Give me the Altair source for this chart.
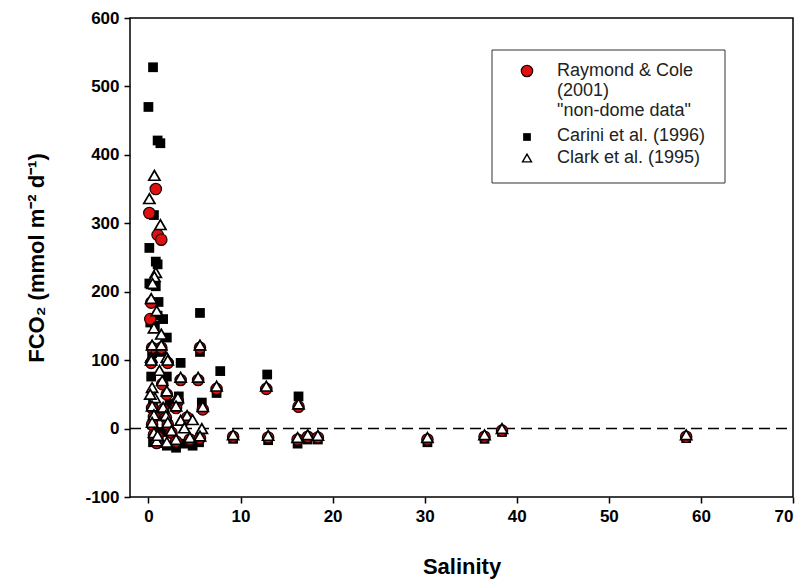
import altair as alt
import pandas as pd

# Raymond & Cole (2001) "non-dome data"
rc_sal = [0.8, 0.1, 1.0, 1.4, 0.3, 0.2, 0.4, 1.4, 0.3, 2.1, 3.5, 5.4, 7.4, 12.8, 16.3, 5.9,
          1.5, 2.0, 3.2, 3.0, 1.6, 0.4, 0.6, 1.9, 4.2, 0.4, 2.1, 0.6, 2.5, 0.9, 3.0, 4.5,
          5.6, 9.2, 13.0, 16.2, 17.3, 18.4, 30.3, 36.5, 38.4, 58.4, 5.6, 1.0]
rc_flux = [350, 315, 283, 276, 184, 160, 118, 118, 96, 96, 71, 71, 58, 58, 32, 28,
           65, 50, 40, 30, 28, 30, 17, 16, 16, 6, 6, -9, -6, -21, -19, -16,
           -14, -12, -13, -16, -12, -13, -16, -12, -3, -12, 118, -12]

# Carini et al. (1996)
ca_sal = [0.5, 0.0, 1.0, 1.3, 0.6, 0.1, 0.8, 1.0, 0.1, 0.8, 0.5, 1.1, 1.0, 0.2, 2.0, 5.6,
          5.6, 3.5, 0.3, 2.0, 7.8, 12.9, 16.3, 5.8, 3.3, 0.5, 2.3, 0.5, 1.5, 0.5, 2.0, 3.0,
          4.8, 5.5, 9.2, 13.0, 16.2, 17.3, 18.4, 30.3, 36.5, 38.4, 58.4, 1.0, 4.0, 0.7, 1.6,
          0.4, 1.4, 7.4]
ca_flux = [528, 470, 421, 417, 312, 264, 244, 240, 212, 208, 210, 185, 165, 155, 133, 169,
           112, 96, 76, 76, 84, 79, 47, 38, 47, 35, 36, 10, -5, -20, -25, -28,
           -25, -20, -15, -17, -22, -16, -16, -20, -15, -5, -14, -12, -22, 150, 160,
           110, 112, 52]

# Clark et al. (1995)
cl_sal = [0.65, 0.1, 1.3, 0.8, 0.65, 0.45, 0.3, 0.9, 0.6, 1.4, 0.4, 1.4, 0.3, 2.0, 5.6,
          0.3, 2.1, 1.5, 3.5, 5.4, 7.4, 0.4, 2.0, 0.7, 3.2, 5.9, 0.4, 1.6, 3.0, 0.6, 1.9,
          4.2, 0.4, 2.1, 3.5, 4.8, 0.6, 2.5, 3.9, 5.8, 0.9, 3.0, 4.5, 5.6, 9.2, 13.0, 16.3,
          12.8, 16.2, 17.3, 18.4, 30.3, 36.5, 38.4, 58.4, 1.0, 2.0, 0.2, 1.2]
cl_flux = [370, 336, 298, 228, 222, 212, 190, 172, 147, 138, 122, 122, 104, 104, 122,
           100, 100, 70, 75, 75, 62, 60, 55, 45, 45, 32, 33, 31, 33, 20, 19,
           19, 9, 9, 12, 13, -6, -3, 1, 0, -18, -16, -13, -11, -9, -10, 36,
           62, -13, -9, -10, -13, -9, 0, -9, -10, -20, 50, 85]

legend_lines = ['Raymond & Cole', '(2001)', '"non-dome data"',
                'Carini et al. (1996)', 'Clark et al. (1995)']

rc = pd.DataFrame({'sal': rc_sal, 'flux': rc_flux})
ca = pd.DataFrame({'sal': ca_sal, 'flux': ca_flux})
cl = pd.DataFrame({'sal': cl_sal, 'flux': cl_flux})

FONT = 'Liberation Sans'
W, H = 663, 479

xs = alt.Scale(domain=[-2, 70], nice=False, zero=False)
ys = alt.Scale(domain=[-100, 600], nice=False, zero=False)
X = alt.X('sal:Q', scale=xs,
          axis=alt.Axis(values=list(range(0, 71, 10)), title='Salinity', titlePadding=32,
                        labelExpr="replace(datum.label, '\u2212', '-')"))
Y = alt.Y('flux:Q', scale=ys,
          axis=alt.Axis(values=list(range(-100, 601, 100)), title='FCO₂ (mmol m⁻² d⁻¹)',
                        titlePadding=36, labelExpr="replace(datum.label, '\u2212', '-')"))

squares = alt.Chart(ca).mark_point(shape='square', filled=True, color='black', size=95,
                                   opacity=1).encode(x=X, y=Y)
circles = alt.Chart(rc).mark_point(shape='circle', filled=True, fill='#e01010', stroke='#200000',
                                   strokeWidth=1.2, size=130, opacity=1).encode(x=X, y=Y)
tris = alt.Chart(cl).mark_point(shape='triangle-up', filled=True, fill='white', stroke='black',
                                strokeWidth=1.7, size=125, opacity=1).encode(x=X, y=Y)

zero = alt.Chart(pd.DataFrame({'flux': [0]})).mark_rule(
    color='black', strokeWidth=1.4, strokeDash=[11, 6]).encode(
    y=Y, x=alt.value(0), x2=alt.value(W))

# manual legend (pixel positions inside plot area)
box = alt.Chart(pd.DataFrame({'a': [0]})).mark_rect(
    fill='white', stroke='#333333', strokeWidth=1).encode(
    x=alt.value(362), x2=alt.value(595), y=alt.value(32), y2=alt.value(165))
lg_sym = pd.DataFrame({'px': [397, 397, 397], 'py': [53, 119, 140], 'k': ['c', 's', 't']})
lg_c = alt.Chart(lg_sym[lg_sym.k == 'c']).mark_point(
    shape='circle', filled=True, fill='#e01010', stroke='#200000', strokeWidth=1.2, size=130,
    opacity=1).encode(x=alt.X('px:Q', scale=None), y=alt.Y('py:Q', scale=None))
lg_s = alt.Chart(lg_sym[lg_sym.k == 's']).mark_point(
    shape='square', filled=True, color='black', size=60, opacity=1).encode(
    x=alt.X('px:Q', scale=None), y=alt.Y('py:Q', scale=None))
lg_t = alt.Chart(lg_sym[lg_sym.k == 't']).mark_point(
    shape='triangle-up', filled=True, fill='white', stroke='black', strokeWidth=1.4, size=80,
    opacity=1).encode(x=alt.X('px:Q', scale=None), y=alt.Y('py:Q', scale=None))
lg_txt_df = pd.DataFrame({'t': legend_lines, 'px': [427] * 5, 'py': [53, 73, 93, 118, 140]})
lg_txt = alt.Chart(lg_txt_df).mark_text(
    align='left', baseline='middle', font=FONT, fontSize=18, color='#222222').encode(
    x=alt.X('px:Q', scale=None), y=alt.Y('py:Q', scale=None), text='t:N')

chart = alt.layer(zero, squares, circles, tris, box, lg_c, lg_s, lg_t, lg_txt).properties(
    width=W, height=H,
    autosize=alt.AutoSizeParams(type='none'),
    padding={'left': 130, 'top': 18, 'right': 12, 'bottom': 90},
    background='white',
).configure_view(
    stroke='black', strokeWidth=1.5
).configure_axis(
    grid=False, domain=False, tickColor='black', tickSize=6, tickWidth=1.5,
    labelFont=FONT, labelFontSize=17, labelFontWeight='bold', labelColor='black',
    labelPadding=5,
    titleFont=FONT, titleFontSize=22, titleFontWeight='bold', titleColor='black',
)

chart.save('out.html', embed_options={'renderer': 'svg', 'actions': False})
